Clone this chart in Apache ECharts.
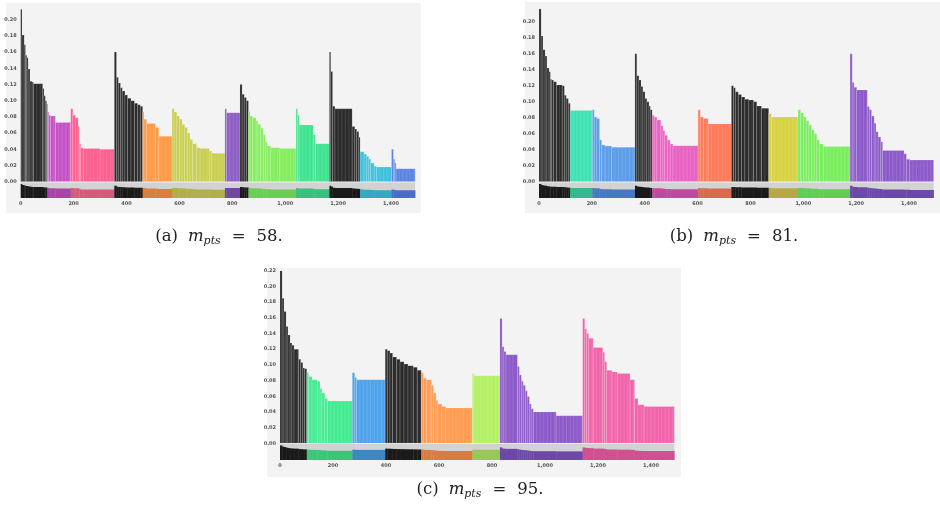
<!DOCTYPE html>
<html>
<head>
<meta charset="utf-8">
<script src="https://cdn.jsdelivr.net/npm/echarts@6/dist/echarts.min.js"></script>
<style>html,body{margin:0;padding:0;background:#fff;}#c{width:940px;height:509px;}</style>
</head>
<body>
<div id="c"></div>
<script>
// ---------- Panel (a) m_pts = 58 ----------
const A_end = 1491;
const A_clusterStart = [0,101,189,354,461,572,772,829,861,1041,1167,1283,1402];
const A_runStart = [0,5,13,18,23,28,35,43,48,83,88,93,98,
 101,106,113,131,
 189,197,207,217,222,227,237,300,
 354,362,369,377,384,394,404,417,430,442,452,
 461,466,476,509,522,
 572,580,590,600,610,620,630,640,650,665,678,713,722,
 772,778,
 829,837,845,853,
 861,867,877,890,897,907,917,925,932,945,980,
 1041,1047,1053,1106,1114,
 1167,1172,1179,1188,1253,1263,1270,1278,
 1283,1298,1308,1316,1323,1336,1346,
 1402,1409,1414,1419];
const A_runValue = [0.213,0.181,0.169,0.156,0.153,0.139,0.124,0.123,0.121,0.115,0.106,0.100,0.096,
 0.086,0.082,0.081,0.073,
 0.090,0.082,0.079,0.068,0.047,0.042,0.041,0.040,
 0.160,0.129,0.122,0.116,0.112,0.107,0.103,0.100,0.097,0.095,0.093,
 0.086,0.077,0.072,0.067,0.056,
 0.090,0.086,0.081,0.077,0.071,0.067,0.060,0.052,0.047,0.042,0.041,0.038,0.035,
 0.090,0.085,
 0.120,0.108,0.104,0.100,
 0.087,0.081,0.079,0.075,0.071,0.066,0.058,0.049,0.044,0.042,0.041,
 0.090,0.082,0.070,0.058,0.047,
 0.160,0.136,0.093,0.090,0.068,0.065,0.062,0.055,
 0.037,0.034,0.031,0.028,0.023,0.019,0.018,
 0.040,0.028,0.023,0.016];

// ---------- Panel (b) m_pts = 81 ----------
const B_end = 1493;
const B_clusterStart = [0,118,202,363,428,602,728,869,980,1177];
const B_runStart = [0,8,15,23,30,38,43,48,55,66,88,96,103,111,
 118,
 202,209,219,229,237,250,275,
 363,370,378,386,393,401,408,416,421,
 428,436,446,461,469,476,486,496,507,
 602,610,622,640,
 728,736,743,754,766,779,794,812,824,842,
 869,879,
 980,990,1001,1011,1021,1031,1041,1051,1061,1076,
 1177,1185,1192,1202,1242,1250,1258,1268,1275,1283,1293,1300,1381,1390,1403];
const B_runValue = [0.216,0.182,0.165,0.157,0.142,0.1375,0.128,0.127,0.125,0.121,0.120,0.108,0.104,0.098,
 0.089,
 0.090,0.081,0.079,0.052,0.046,0.0446,0.043,
 0.160,0.1325,0.127,0.119,0.1125,0.104,0.100,0.0946,0.090,
 0.083,0.081,0.077,0.070,0.064,0.058,0.052,0.047,0.045,
 0.090,0.081,0.079,0.072,
 0.120,0.1175,0.1125,0.109,0.106,0.103,0.102,0.100,0.0946,0.0917,
 0.0854,0.081,
 0.090,0.086,0.081,0.076,0.071,0.065,0.060,0.052,0.047,0.044,
 0.160,0.124,0.118,0.1146,0.094,0.090,0.082,0.073,0.0625,0.056,0.050,0.039,0.035,0.028,0.027];

// ---------- Panel (c) m_pts = 95 ----------
const C_end = 1488;
const C_clusterStart = [0,101,273,397,533,726,830,1142];
const C_runStart = [0,8,15,23,30,38,45,53,70,78,86,93,
 101,108,121,141,151,158,169,179,
 273,282,289,
 397,405,415,425,440,453,468,483,503,518,
 533,541,553,571,579,589,596,611,626,
 726,732,
 830,838,845,853,896,903,911,918,926,933,941,948,956,1042,
 1142,1150,1157,1165,1182,1218,1225,1233,1253,1273,1321,1338,1351,1374];
const C_runValue = [0.220,0.185,0.168,0.149,0.138,0.128,0.125,0.120,0.107,0.103,0.096,0.095,
 0.090,0.085,0.081,0.079,0.070,0.064,0.057,0.054,
 0.090,0.084,0.081,
 0.120,0.118,0.115,0.110,0.107,0.104,0.101,0.099,0.097,0.093,
 0.090,0.083,0.081,0.074,0.064,0.055,0.050,0.047,0.045,
 0.089,0.086,
 0.159,0.123,0.117,0.113,0.098,0.087,0.079,0.074,0.067,0.0595,0.050,0.044,0.040,0.035,
 0.159,0.146,0.140,0.134,0.122,0.116,0.104,0.093,0.091,0.089,0.081,0.057,0.049,0.047];

const yTicks = [0,0.02,0.04,0.06,0.08,0.10,0.12,0.14,0.16,0.18,0.20,0.22];
const xTicks = [0,200,400,600,800,1000,1200,1400];
const captions = [['(a)','58.'],['(b)','81.'],['(c)','95.']];

// styles
const A_colors = ['#2b2b2b','#c653c6','#ff5f8f','#2b2b2b','#ff9a48','#c9cf52','#8e5fc4','#2b2b2b','#84ee5e','#3fe390','#2b2b2b','#3fc3dc','#5b84e4'];
const A_dark   = ['#1a1a1a','#a846a8','#d85a7a','#1a1a1a','#d8803c','#b0b048','#7048a0','#1a1a1a','#6ccc58','#38c07c','#1a1a1a','#36a8c0','#4a6cc8'];
const B_colors = ['#2b2b2b','#3fe3b3','#5b9de8','#2b2b2b','#ea62c2','#ff7a58','#2b2b2b','#d9d243','#7bee5f','#8c5ac9'];
const B_dark   = ['#1a1a1a','#36b890','#4a78c0','#1a1a1a','#c04aa0','#d86a50','#1a1a1a','#b8a840','#62cc58','#6c48a8'];
const C_colors = ['#2b2b2b','#45eb92','#4ea3ea','#2b2b2b','#ff9c52','#b4f066','#8c5ac9','#f264aa'];
const C_dark   = ['#1a1a1a','#38c878','#3a88c8','#1a1a1a','#d87c40','#98c858','#6c48a8','#d05090'];

function clusterOf(starts, x){ let k=0; for(let i=0;i<starts.length;i++){ if(x>=starts[i]) k=i; } return k; }
function buildRuns(runStart, runValue, clusterStart, end){
  const out=[];
  for(let i=0;i<runStart.length;i++){
    const e = i+1<runStart.length ? runStart[i+1] : end;
    out.push([runStart[i], e, runValue[i], clusterOf(clusterStart, runStart[i])]);
  }
  return out;
}
const panels = [
  {runs: buildRuns(A_runStart,A_runValue,A_clusterStart,A_end), end:A_end, colors:A_colors, dark:A_dark,
   main:{left:20.7,top:3.5,width:394.4,height:178.2}, strip:{top:182.5,height:15.5}, showTop:false},
  {runs: buildRuns(B_runStart,B_runValue,B_clusterStart,B_end), end:B_end, colors:B_colors, dark:B_dark,
   main:{left:539,top:5.7,width:394.6,height:176}, strip:{top:182.5,height:15.5}, showTop:false},
  {runs: buildRuns(C_runStart,C_runValue,C_clusterStart,C_end), end:C_end, colors:C_colors, dark:C_dark,
   main:{left:280,top:270.7,width:394.3,height:172.6}, strip:{top:444,height:16}, showTop:true}
];
const STRIP_MIN = -0.235, STRIP_MAX = 0.265;

const grid=[], xAxis=[], yAxis=[], series=[];
panels.forEach((p,pi)=>{
  const gi = grid.length;
  grid.push({left:p.main.left, top:p.main.top, width:p.main.width, height:p.main.height, containLabel:false});
  grid.push({left:p.main.left, top:p.strip.top, width:p.main.width, height:p.strip.height, show:true, backgroundColor:'#d2d2d2', borderWidth:0});
  xAxis.push({gridIndex:gi, type:'value', min:0, max:p.end, show:false});
  xAxis.push({gridIndex:gi+1, type:'value', min:0, max:p.end, interval:200,
    axisLine:{show:false}, axisTick:{show:false}, splitLine:{show:false},
    axisLabel:{show:true, showMaxLabel:false, margin:3, fontSize:5, fontWeight:'bold', color:'#555', fontFamily:'DejaVu Sans',
      formatter:v=> (xTicks.indexOf(v)>=0 ? v.toLocaleString('en-US') : '')}});
  yAxis.push({gridIndex:gi, type:'value', min:0, max:0.22, interval:0.02,
    axisLine:{show:false}, axisTick:{show:false}, splitLine:{show:false},
    axisLabel:{show:true, showMaxLabel:p.showTop, margin:4, fontSize:5, fontWeight:'bold', color:'#555', fontFamily:'DejaVu Sans',
      formatter:v=> (yTicks.some(t=>Math.abs(t-v)<1e-9) ? v.toFixed(2) : '')}});
  yAxis.push({gridIndex:gi+1, type:'value', min:STRIP_MIN, max:STRIP_MAX, show:false});
  // reachability bars
  series.push({type:'custom', xAxisIndex:gi, yAxisIndex:gi, data:p.runs, clip:true, silent:true,
    renderItem:(params, api)=>{
      const s=api.value(0), e=api.value(1), v=api.value(2), c=api.value(3);
      const p0=api.coord([s,v]), p1=api.coord([e,0]);
      const w=p1[0]-p0[0], h=p1[1]-p0[1];
      const children=[{type:'rect', shape:{x:p0[0], y:p0[1], width:w, height:h},
        style:{fill:p.colors[c], stroke:'rgba(255,255,255,0.28)', lineWidth:0.6}}];
      for(let x=p0[0]+3.2; x<p1[0]-1; x+=3.6){
        children.push({type:'line', shape:{x1:x, y1:p0[1]+1, x2:x, y2:p1[1]},
          style:{stroke:'rgba(255,255,255,0.16)', lineWidth:0.8}});
      }
      return {type:'group', children};
    }});
  // cluster strip
  series.push({type:'custom', xAxisIndex:gi+1, yAxisIndex:gi+1, data:p.runs, clip:true, silent:true,
    renderItem:(params, api)=>{
      const s=api.value(0), e=api.value(1), v=api.value(2), c=api.value(3);
      const p0=api.coord([s,v]), p1=api.coord([e,STRIP_MIN]);
      return {type:'rect', shape:{x:p0[0], y:p0[1], width:p1[0]-p0[0]+0.3, height:p1[1]-p0[1]},
        style:{fill:p.dark[c]}};
    }});
});

const boxes = [
  {x:6, y:3, w:415, h:210},
  {x:525, y:2, w:415, h:211},
  {x:267, y:268, w:414, h:209}
];
const capPos = [[219,237],[734,237],[480,490]];
const graphic = [];
boxes.forEach(b=>graphic.push({type:'rect', z:-10, shape:{x:b.x,y:b.y,width:b.w,height:b.h}, style:{fill:'#f3f3f3'}}));
const F='DejaVu Serif';
captions.forEach((c,i)=>{
  graphic.push({type:'text', x:capPos[i][0], y:capPos[i][1], z:10,
    style:{text:'{n|'+c[0]+'}{i|m}{s|pts}{e|=}{n|'+c[1]+'}', align:'center', verticalAlign:'middle',
      rich:{
        n:{fontFamily:F, fontSize:16.5, fill:'#222', lineHeight:20, verticalAlign:'middle'},
        i:{fontFamily:F, fontStyle:'italic', fontSize:16.5, fill:'#222', lineHeight:20, verticalAlign:'middle', padding:[0,0,0,10]},
        s:{fontFamily:F, fontStyle:'italic', fontSize:11, fill:'#222', lineHeight:20, padding:[9,0,0,0], verticalAlign:'middle'},
        e:{fontFamily:F, fontSize:16.5, fill:'#222', lineHeight:20, verticalAlign:'middle', padding:[0,11,0,11]}
      }}});
});

const chart = echarts.init(document.getElementById('c'), null, {renderer:'canvas'});
chart.setOption({animation:false, backgroundColor:'#ffffff', grid, xAxis, yAxis, series, graphic});
</script>
</body>
</html>
